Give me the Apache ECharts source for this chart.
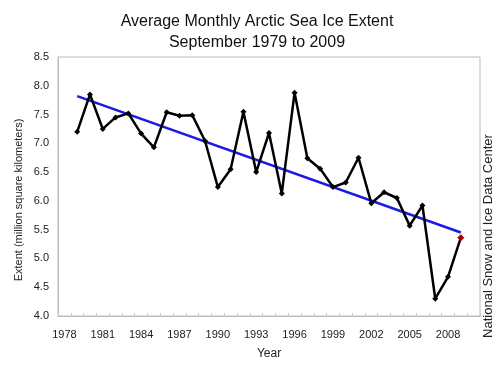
<!DOCTYPE html>
<html><head><meta charset="utf-8">
<script src="https://cdn.jsdelivr.net/npm/echarts@6/dist/echarts.min.js"></script>
<style>html,body{margin:0;padding:0;background:#fff}#c{width:500px;height:365px}</style>
</head><body><div id="c"></div>
<script>
var categories = [];
for (var y = 1978; y <= 2010; y++) categories.push(String(y));
var years = ['1979','1980','1981','1982','1983','1984','1985','1986','1987','1988','1989','1990','1991','1992','1993','1994','1995','1996','1997','1998','1999','2000','2001','2002','2003','2004','2005','2006','2007','2008','2009'];
var extent = [7.20,7.85,7.25,7.45,7.52,7.17,6.93,7.54,7.48,7.49,7.04,6.24,6.55,7.55,6.50,7.18,6.13,7.88,6.74,6.56,6.24,6.32,6.75,5.96,6.15,6.05,5.57,5.92,4.30,4.68,5.36];
var trendYears = ['1979','2009'];
var trendValues = [7.82, 5.45];

var font = 'Liberation Sans, Arial, sans-serif';
var seaData = years.map(function(y, i){
  var item = {value: [y, extent[i]]};
  if (i === years.length - 1) item.itemStyle = {color: '#a00000', borderColor: '#a00000'};
  return item;
});
var chart = echarts.init(document.getElementById('c'), null, {renderer: 'canvas'});
chart.setOption({
  animation: false,
  backgroundColor: '#fff',
  grid: {left: 58, right: 20, top: 57, bottom: 48, show: true, borderColor: '#bbb', borderWidth: 1},
  xAxis: {
    type: 'category', data: categories, boundaryGap: true,
    name: 'Year', nameLocation: 'middle', nameGap: 32,
    nameTextStyle: {fontFamily: font, fontSize: 12, color: '#222'},
    axisLine: {lineStyle: {color: '#bbb'}},
    axisTick: {show: true, interval: 0, inside: true, length: 3, lineStyle: {color: '#ccc'}},
    axisLabel: {interval: 2, fontFamily: font, fontSize: 11, color: '#222', margin: 13},
    splitLine: {show: false}
  },
  yAxis: {
    type: 'value', min: 4, max: 8.5, interval: 0.5,
    axisLine: {show: true, lineStyle: {color: '#bbb'}},
    axisTick: {show: false},
    axisLabel: {fontFamily: font, fontSize: 11, color: '#222', margin: 9, formatter: function(v){return v.toFixed(1);}},
    splitLine: {show: false}
  },
  graphic: [{
    type: 'text', x: 257, y: 11,
    style: {text: 'Average Monthly Arctic Sea Ice Extent\nSeptember 1979 to 2009', fontFamily: font, fontSize: 16, lineHeight: 21, fill: '#111', align: 'center', verticalAlign: 'top'}
  },{
    type: 'text', x: 13, y: 200, rotation: Math.PI/2,
    style: {text: 'Extent (million square kilometers)', fontFamily: font, fontSize: 11, fill: '#222', align: 'center', verticalAlign: 'top'}
  },{
    type: 'text', x: 482, y: 236, rotation: Math.PI/2,
    style: {text: 'National Snow and Ice Data Center', fontFamily: font, fontSize: 13, fill: '#222', align: 'center', verticalAlign: 'top'}
  }],
  series: [{
    type: 'line', data: trendYears.map(function(y,i){return [y, trendValues[i]];}),
    symbol: 'none', lineStyle: {color: '#1a1ae0', width: 2.5}, z: 2
  },{
    type: 'line', data: seaData,
    symbol: 'diamond', symbolSize: 6,
    itemStyle: {color: '#000'},
    lineStyle: {color: '#000', width: 2.5}, z: 3
  }]
});
</script></body></html>
